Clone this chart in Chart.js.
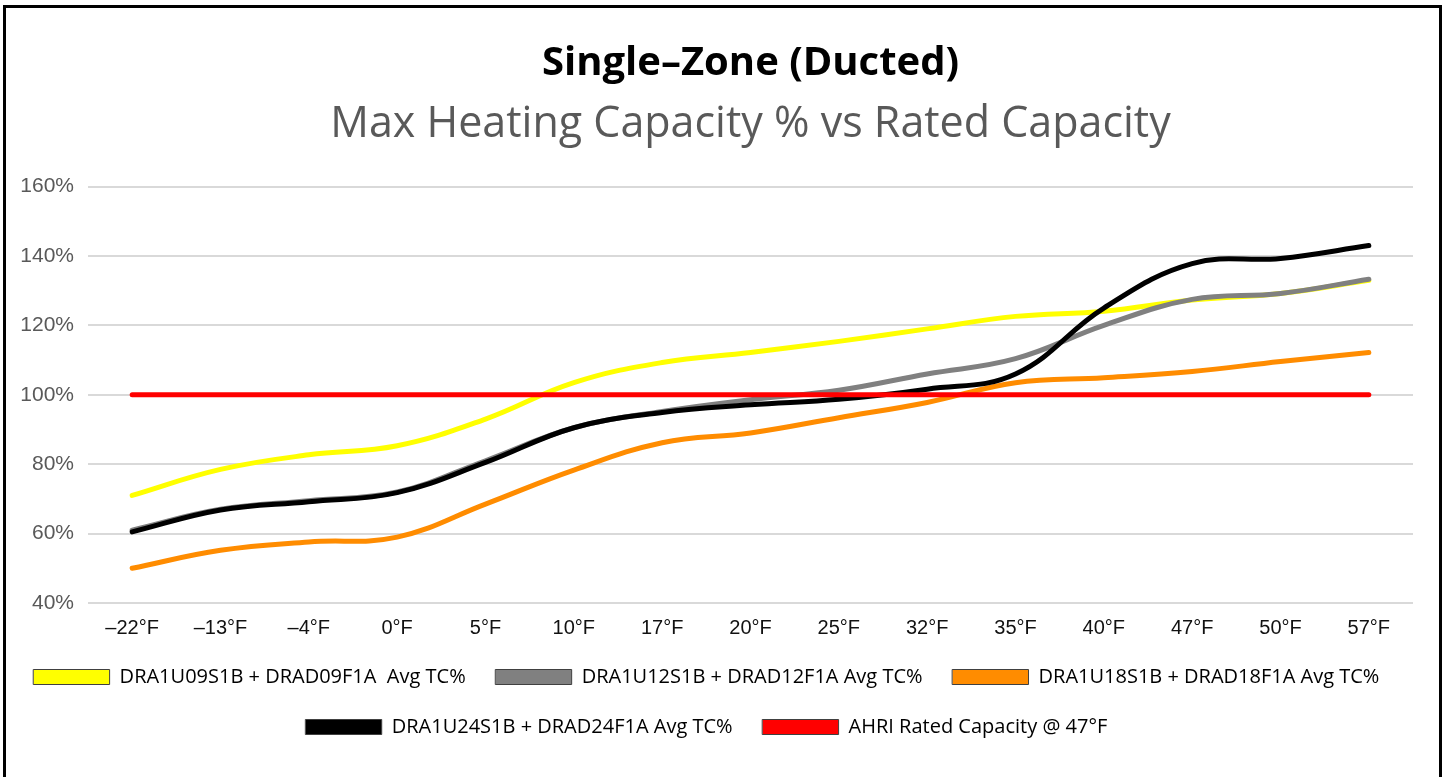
<!DOCTYPE html>
<html>
<head>
<meta charset="utf-8">
<script src="https://cdn.jsdelivr.net/npm/chart.js@4/dist/chart.umd.min.js"></script>
<style>
  html, body { margin: 0; padding: 0; background: #fff; overflow: hidden; }
  #wrap { position: relative; width: 1445px; height: 777px; }
  #frame {
    position: absolute; left: 3px; top: 5px; width: 1433px; height: 800px;
    border: 3px solid #000; pointer-events: none;
  }
</style>
</head>
<body>
<div id="wrap">
  <canvas id="capChart" width="1445" height="777"></canvas>
  <div id="frame"></div>
</div>
<script>
// outdoor temperatures (categories)
const temps = ["–22°F", "–13°F", "–4°F", "0°F", "5°F", "10°F", "17°F", "20°F", "25°F", "32°F", "35°F", "40°F", "47°F", "50°F", "57°F"];

// capacity % of rated
const cap09 = [71, 78.5, 82.7, 85.3, 93, 103.5, 109.3, 112.2, 115.4, 119, 122.6, 124.1, 127.3, 129.2, 133];
const cap12 = [61, 67, 69.5, 72, 81, 90.5, 95.2, 98.6, 101.3, 106, 110.4, 120, 127.5, 129.2, 133.3];
const cap18 = [50, 55.2, 57.6, 59, 68.5, 78.3, 86.2, 89, 93.4, 97.8, 103.5, 104.9, 106.7, 109.6, 112.2];
const cap24 = [60.5, 66.8, 69.2, 71.8, 80.5, 90.5, 94.9, 97.1, 98.7, 101.6, 106, 125, 137.8, 139.3, 143];
const ahriRated = [100, 100, 100, 100, 100, 100, 100, 100, 100, 100, 100, 100, 100, 100, 100];

const yTicks = [40, 60, 80, 100, 120, 140, 160];

const seriesNames = [
  "DRA1U09S1B + DRAD09F1A  Avg TC%",
  "DRA1U12S1B + DRAD12F1A Avg TC%",
  "DRA1U18S1B + DRAD18F1A Avg TC%",
  "DRA1U24S1B + DRAD24F1A Avg TC%",
  "AHRI Rated Capacity @ 47°F"
];

function line(label, data, color, order) {
  return {
    label: label,
    data: data,
    borderColor: color,
    backgroundColor: color,
    borderWidth: 5,
    borderCapStyle: "round",
    pointRadius: 0,
    tension: 0.4,
    fill: false,
    order: order
  };
}

const ctx = document.getElementById("capChart").getContext("2d");

new Chart(ctx, {
  type: "line",
  data: {
    labels: temps,
    datasets: [
      line(seriesNames[0], cap09, "#FFFF00", 5),
      line(seriesNames[1], cap12, "#808080", 4),
      line(seriesNames[2], cap18, "#FF8C00", 3),
      line(seriesNames[3], cap24, "#000000", 2),
      line(seriesNames[4], ahriRated, "#FF0000", 1)
    ]
  },
  options: {
    responsive: false,
    animation: false,
    layout: { padding: { top: 40, right: 32, bottom: 30, left: 0 } },
    plugins: {
      title: {
        display: true,
        fullSize: false,
        text: "Single–Zone (Ducted)",
        color: "#000",
        font: { family: "'Open Sans', sans-serif", size: 40, weight: "bold" },
        padding: { top: 0, bottom: 0 }
      },
      subtitle: {
        display: true,
        fullSize: false,
        text: "Max Heating Capacity % vs Rated Capacity",
        color: "#595959",
        font: { family: "'Open Sans', sans-serif", size: 43, weight: "normal" },
        padding: { top: 11, bottom: 36 }
      },
      legend: {
        position: "bottom",
        labels: {
          boxWidth: 76,
          boxHeight: 15,
          padding: 30,
          color: "#000",
          font: { family: "'Open Sans', sans-serif", size: 20 },
          sort: (a, b) => a.datasetIndex - b.datasetIndex,
          generateLabels: (chart) => {
            const items = Chart.defaults.plugins.legend.labels.generateLabels(chart);
            items.forEach(it => { it.lineWidth = 1; it.strokeStyle = "#404040"; });
            return items;
          }
        }
      },
      tooltip: { enabled: false }
    },
    scales: {
      x: {
        offset: true,
        afterFit: (scale) => { scale.height = 34; },
        grid: { display: false },
        border: { display: false },
        ticks: {
          color: "#111",
          padding: 5,
          maxRotation: 0,
          autoSkip: false,
          font: { family: "'Liberation Sans Narrow', 'Arial Narrow', sans-serif", size: 20 }
        }
      },
      y: {
        min: 40,
        max: 160,
        afterFit: (scale) => { scale.width = 88; },
        afterBuildTicks: (scale) => { scale.ticks = yTicks.map(v => ({ value: v })); },
        grid: { color: "#d9d9d9", lineWidth: 2, drawTicks: false },
        border: { display: false },
        ticks: {
          color: "#595959",
          padding: 14,
          font: { family: "'Liberation Sans Narrow', 'Arial Narrow', sans-serif", size: 21 },
          callback: (v) => v + "%"
        }
      }
    }
  }
});
</script>
</body>
</html>
